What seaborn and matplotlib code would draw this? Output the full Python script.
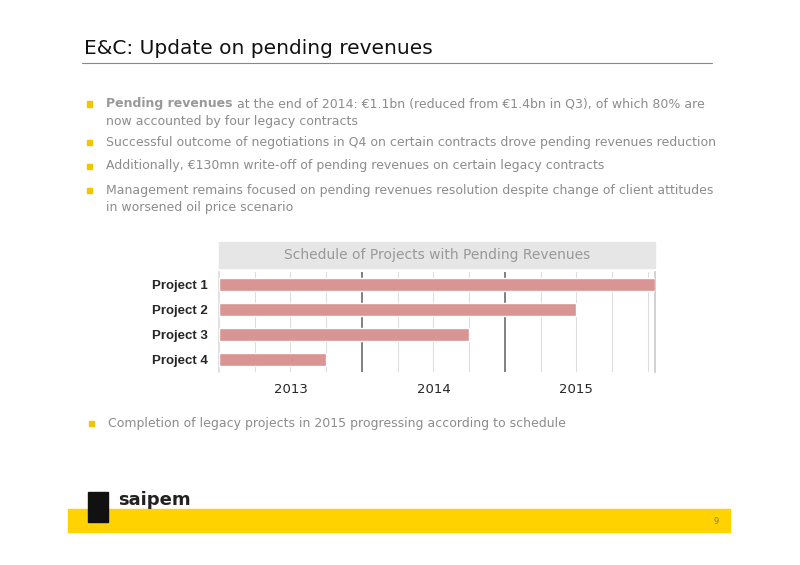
import matplotlib
matplotlib.use("Agg")
import matplotlib.pyplot as plt
import seaborn as sns
import pandas as pd
from matplotlib.patches import Rectangle

projects = ["Project 1", "Project 2", "Project 3", "Project 4"]
end_year = [2016.05, 2015.5, 2014.75, 2013.75]
year_labels = ["2013", "2014", "2015"]
year_ticks = [2013.5, 2014.5, 2015.5]

sns.set_theme(style="white")
plt.rcParams['font.family'] = ['DejaVu Sans']
fig = plt.figure(figsize=(8, 5.65), dpi=100)
W, H = 800, 565
def fx(x): return x / W
def fy(y): return 1 - y / H
FS = 9.0
GREY = "#8C8C8C"

fig.text(fx(84), fy(48), "E&C: Update on pending revenues", fontsize=14.5, va="center", color="#111111")
fig.add_artist(plt.Line2D([fx(82), fx(712)], [fy(63), fy(63)], color="#888888", lw=0.8))

def sq(x, y):
    fig.add_artist(Rectangle((fx(x), fy(y + 2.5)), 5 / W, 5 / H, color="#F5C400", transform=fig.transFigure))

sq(87, 104)
t = fig.text(fx(106), fy(104), "Pending revenues", fontsize=FS, fontweight="bold", color="#999999", va="center")
r = fig.canvas.get_renderer()
bb = t.get_window_extent(renderer=r)
fig.text(bb.x1 / W + 4 / W, fy(104), "at the end of 2014: €1.1bn (reduced from €1.4bn in Q3), of which 80% are",
         fontsize=FS, color=GREY, va="center")
fig.text(fx(106), fy(122), "now accounted by four legacy contracts", fontsize=FS, color=GREY, va="center")
for y, s in [(142, "Successful outcome of negotiations in Q4 on certain contracts drove pending revenues reduction"),
             (166, "Additionally, €130mn write-off of pending revenues on certain legacy contracts"),
             (190, "Management remains focused on pending revenues resolution despite change of client attitudes"),
             (208, "in worsened oil price scenario")]:
    if y != 208:
        sq(87, y)
    fig.text(fx(106), fy(y), s, fontsize=FS, color=GREY, va="center")

sq(89, 423)
fig.text(fx(108), fy(423), "Completion of legacy projects in 2015 progressing according to schedule", fontsize=FS, color=GREY, va="center")

fig.add_artist(Rectangle((fx(219), fy(268)), 436 / W, 26 / H, color="#E6E6E6", transform=fig.transFigure))
fig.text(fx(437), fy(255), "Schedule of Projects with Pending Revenues", fontsize=10, color="#999999", ha="center", va="center")

ax = fig.add_axes([fx(219), fy(372), 436 / W, 100 / H])
df = pd.DataFrame({"project": projects, "end": [e - 2013.0 for e in end_year]})
sns.barplot(data=df, y="project", x="end", left=2013.0, color="#D99594", saturation=1, width=0.55, ax=ax, zorder=3)
ax.set_xlim(2013.0, 2016.05)
for q in range(1, 13):
    xq = 2013 + q * 0.25
    if q in (4, 8):
        ax.axvline(xq, color="#808080", lw=1.4, zorder=1)
    else:
        ax.axvline(xq, color="#DDDDDD", lw=0.8, zorder=1)
ax.set_xticks(year_ticks)
ax.set_xticklabels(year_labels, fontsize=9.5)
ax.tick_params(axis="x", length=0, pad=8)
ax.tick_params(axis="y", length=0, pad=8)
for lbl in ax.get_yticklabels():
    lbl.set_fontweight("bold"); lbl.set_fontsize(9.5); lbl.set_family("Liberation Sans")
ax.set_xlabel(""); ax.set_ylabel("")
for s in ["top", "bottom"]:
    ax.spines[s].set_visible(False)
ax.spines["left"].set_color("#DDDDDD")
ax.spines["right"].set_color("#CCCCCC")

fig.add_artist(Rectangle((fx(68), fy(532)), 662 / W, 23 / H, color="#FFD200", transform=fig.transFigure))
fig.text(fx(714), fy(521), "9", fontsize=6, color="#777777", va="center")
fig.text(fx(118), fy(500), "saipem", fontsize=13, fontweight="bold", color="#222222", va="center")
fig.add_artist(Rectangle((fx(88), fy(522)), 20 / W, 30 / H, color="#111111", transform=fig.transFigure))

fig.savefig("out.png", dpi=100)
